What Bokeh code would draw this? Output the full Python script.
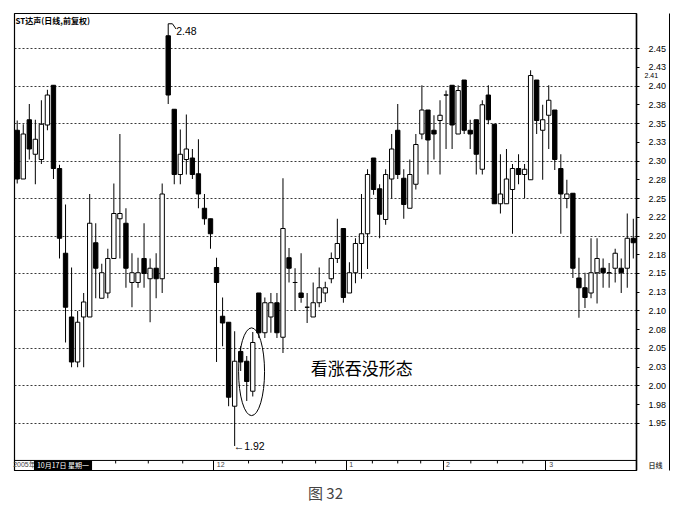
import numpy as np
from bokeh.plotting import figure
from bokeh.models import ColumnDataSource, FixedTicker, LinearAxis, Range1d, Label, Title, Span
from bokeh.embed import file_html
from bokeh.resources import INLINE

# ---------------- data ----------------
opens = [2.341, 2.276, 2.355, 2.309, 2.302, 2.348, 2.401, 2.290, 2.177, 2.092,
         2.032, 2.092, 2.092, 2.191, 2.117, 2.124, 2.170, 2.223, 2.217, 2.138,
         2.138, 2.170, 2.143, 2.157, 2.143, 2.467, 2.369, 2.282, 2.302, 2.304,
         2.283, 2.237, 2.223, 2.158, 2.093, 2.085, 1.973, 2.046, 2.033, 1.993,
         2.124, 2.071, 2.092, 2.111, 2.065, 2.171, 2.138, 2.124, 2.105, 2.092,
         2.111, 2.124, 2.143, 2.170, 2.210, 2.124, 2.151, 2.190, 2.203, 2.304,
         2.263, 2.222, 2.276, 2.341, 2.277, 2.237, 2.269, 2.336, 2.368, 2.341,
         2.354, 2.388, 2.401, 2.336, 2.408, 2.341, 2.355, 2.289, 2.388, 2.349,
         2.243, 2.243, 2.262, 2.290, 2.282, 2.275, 2.408, 2.341, 2.361, 2.368,
         2.290, 2.250, 2.257, 2.144, 2.131, 2.124, 2.151, 2.157, 2.151, 2.157,
         2.157, 2.157, 2.197]
highs = [2.354, 2.349, 2.376, 2.355, 2.381, 2.395, 2.401, 2.295, 2.242, 2.158,
         2.100, 2.124, 2.256, 2.217, 2.163, 2.183, 2.270, 2.336, 2.237, 2.177,
         2.171, 2.217, 2.170, 2.177, 2.270, 2.480, 2.369, 2.342, 2.362, 2.316,
         2.329, 2.256, 2.223, 2.171, 2.118, 2.085, 2.073, 2.053, 2.040, 2.072,
         2.124, 2.118, 2.124, 2.124, 2.277, 2.184, 2.157, 2.177, 2.124, 2.138,
         2.158, 2.139, 2.178, 2.223, 2.210, 2.165, 2.197, 2.256, 2.289, 2.304,
         2.269, 2.289, 2.336, 2.376, 2.289, 2.302, 2.336, 2.401, 2.368, 2.361,
         2.381, 2.394, 2.401, 2.401, 2.408, 2.355, 2.355, 2.381, 2.401, 2.349,
         2.309, 2.316, 2.296, 2.309, 2.296, 2.421, 2.408, 2.375, 2.401, 2.368,
         2.309, 2.275, 2.257, 2.171, 2.151, 2.197, 2.197, 2.170, 2.164, 2.183,
         2.170, 2.230, 2.223]
lows = [2.270, 2.276, 2.302, 2.269, 2.296, 2.341, 2.276, 2.170, 2.058, 2.025,
        2.025, 2.025, 2.092, 2.117, 2.117, 2.117, 2.170, 2.170, 2.131, 2.105,
        2.131, 2.131, 2.085, 2.117, 2.124, 2.376, 2.269, 2.269, 2.282, 2.276,
        2.237, 2.215, 2.183, 2.032, 2.053, 1.973, 1.920, 2.020, 1.980, 1.986,
        2.064, 2.064, 2.071, 2.064, 2.044, 2.138, 2.100, 2.111, 2.084, 2.092,
        2.105, 2.112, 2.137, 2.164, 2.111, 2.124, 2.137, 2.143, 2.156, 2.255,
        2.197, 2.215, 2.250, 2.276, 2.223, 2.237, 2.262, 2.329, 2.282, 2.302,
        2.282, 2.316, 2.316, 2.336, 2.336, 2.316, 2.282, 2.282, 2.349, 2.243,
        2.230, 2.243, 2.203, 2.269, 2.250, 2.275, 2.336, 2.275, 2.316, 2.288,
        2.203, 2.237, 2.144, 2.091, 2.104, 2.117, 2.110, 2.131, 2.131, 2.138,
        2.124, 2.131, 2.170]
closes = [2.276, 2.336, 2.316, 2.329, 2.349, 2.388, 2.290, 2.197, 2.105, 2.032,
          2.085, 2.112, 2.217, 2.157, 2.151, 2.170, 2.230, 2.230, 2.157, 2.151,
          2.151, 2.150, 2.157, 2.143, 2.256, 2.388, 2.282, 2.309, 2.316, 2.282,
          2.256, 2.223, 2.203, 2.138, 2.084, 1.985, 2.033, 2.032, 2.006, 2.058,
          2.071, 2.111, 2.111, 2.071, 2.210, 2.157, 2.138, 2.118, 2.105, 2.111,
          2.131, 2.131, 2.170, 2.190, 2.118, 2.151, 2.190, 2.203, 2.282, 2.262,
          2.229, 2.282, 2.316, 2.282, 2.242, 2.282, 2.322, 2.368, 2.328, 2.336,
          2.361, 2.388, 2.348, 2.394, 2.341, 2.336, 2.309, 2.375, 2.355, 2.243,
          2.256, 2.276, 2.290, 2.282, 2.289, 2.414, 2.354, 2.355, 2.381, 2.302,
          2.256, 2.256, 2.157, 2.131, 2.118, 2.151, 2.170, 2.151, 2.151, 2.177,
          2.151, 2.197, 2.191]

# price axis ticks and their printed labels
y_ticks = [1.95, 1.975, 2.0, 2.025, 2.05, 2.075, 2.1, 2.125, 2.15, 2.175, 2.2,
           2.225, 2.25, 2.275, 2.3, 2.325, 2.35, 2.375, 2.4, 2.425, 2.45]
y_tick_labels = ["1.95", "1.98", "2.00", "2.03", "2.05", "2.08", "2.10", "2.13",
                 "2.15", "2.18", "2.20", "2.22", "2.25", "2.28", "2.30", "2.33",
                 "2.35", "2.38", "2.40", "2.43", "2.45"]
grid_levels = [1.95, 2.0, 2.05, 2.1, 2.15, 2.2, 2.25, 2.3, 2.35, 2.4, 2.45]
marker_price = 2.414
marker_label = "2.41"

# time strip: month separators, small tick marks, labels
month_starts = [32.5, 54.5, 70.5, 87.5]
small_ticks = [16.3, 21.7, 27.4, 38.3, 43.9, 49.4, 58.8, 63.0, 66.8, 75.1, 79.5, 83.7]
x_label_pos = [1.2, 33.7, 55.3, 71.3, 88.4]
x_labels = ["2005年", "12", "1", "2", "3"]
period_label = "日线"
date_box_text = "10月17日 星期一"

title_text = "ST达声(日线,前复权)"
pattern_text = "看涨吞没形态"
caption_text = "图 32"

# ---------------- geometry of the window ----------------
Y_TOP, Y_BOTTOM = 1.8873, 2.4967          # price at bottom / top of the frame
STRIP_TOP = 1.9007                         # price level of the time-strip top line
STRIP_MID = 1.894


def try_set(obj, **kw):
    ok = True
    for k, v in kw.items():
        try:
            setattr(obj, k, v)
        except Exception:
            ok = False
    return ok


n = len(opens)
idx = list(range(n))
src = ColumnDataSource(dict(
    x=idx, open=opens, high=highs, low=lows, close=closes,
    top=[max(o, c) for o, c in zip(opens, closes)],
    bottom=[min(o, c) for o, c in zip(opens, closes)],
    fill=["white" if c >= o else "black" for o, c in zip(opens, closes)],
))

p = figure(width=678, height=514,
           x_range=Range1d(-0.45, 102.53), y_range=Range1d(Y_TOP, Y_BOTTOM),
           output_backend="svg", toolbar_location=None,
           y_axis_location="right",
           min_border_left=14, min_border_right=42, min_border_top=13, min_border_bottom=44)
p.background_fill_color = "white"
p.border_fill_color = "white"
p.outline_line_color = "black"
p.outline_line_width = 1.2

# grid
p.xgrid.visible = False
p.ygrid.ticker = FixedTicker(ticks=grid_levels)
p.ygrid.grid_line_color = "#3a3a3a"
p.ygrid.grid_line_dash = "2 2"
p.ygrid.grid_line_width = 1

# y axis (right)
ya = p.yaxis[0]
ya.ticker = FixedTicker(ticks=y_ticks)
ya.major_label_overrides = {t: s for t, s in zip(y_ticks, y_tick_labels)}
ya.major_label_text_font = "Liberation Sans Narrow, Liberation Sans"
ya.major_label_text_font_size = "9px"
ya.major_label_text_color = "black"
ya.major_tick_out = 3
ya.major_tick_in = 0
ya.minor_tick_line_color = None
ya.axis_line_width = 1.5
ya.major_label_standoff = 9

# outer border line, carrying the period label of the bottom-right box
ya2 = LinearAxis(ticker=FixedTicker(ticks=[STRIP_MID]),
                 major_label_overrides={STRIP_MID: period_label},
                 major_label_text_font="Noto Sans CJK SC", major_label_text_font_size="7px",
                 major_label_text_font_style="bold",
                 major_tick_out=0, major_tick_in=0, major_label_standoff=-21,
                 axis_line_color="black", minor_tick_line_color=None)
p.add_layout(ya2, "right")

# price marker box on the axis
ya3 = LinearAxis(ticker=FixedTicker(ticks=[marker_price]),
                 major_label_overrides={marker_price: marker_label},
                 major_label_text_font="Liberation Sans Narrow, Liberation Sans",
                 major_label_text_font_size="7px",
                 major_tick_out=0, major_tick_in=0, major_label_standoff=-25,
                 axis_line_color=None, minor_tick_line_color=None)
has_bg = try_set(ya3, major_label_background_fill_color="black")
ya3.major_label_text_color = "white" if has_bg else "black"
p.add_layout(ya3, "right")

# x axis: labels drawn inside the time strip
xa = p.xaxis[0]
xa.ticker = FixedTicker(ticks=x_label_pos, minor_ticks=month_starts)
xa.major_label_overrides = {t: s for t, s in zip(x_label_pos, x_labels)}
xa.major_label_text_font = "Liberation Sans, Noto Sans CJK SC"
xa.major_label_text_font_size = "7px"
xa.major_label_standoff = -10
xa.major_tick_out = 0
xa.major_tick_in = 0
xa.major_tick_line_color = None
xa.minor_tick_out = 0
xa.minor_tick_in = 10
xa.minor_tick_line_color = "black"
xa.axis_line_color = "black"

# strip top line and small tick marks
p.add_layout(Span(location=STRIP_TOP, dimension="width", line_color="black", line_width=1))
p.segment(x0=small_ticks, y0=[STRIP_TOP] * len(small_ticks),
          x1=small_ticks, y1=[STRIP_TOP - 0.004] * len(small_ticks),
          line_color="black", line_width=1)

# candles
p.segment(x0="x", y0="low", x1="x", y1="high", source=src, line_color="black", line_width=1)
p.vbar(x="x", width=0.72, top="top", bottom="bottom", source=src,
       fill_color="fill", line_color="black", line_width=1)

# high / low annotations
hi_i = int(np.argmax(highs))
lo_i = int(np.argmin(lows))
p.line([hi_i, hi_i, hi_i + 0.7, hi_i + 1.3],
       [highs[hi_i], highs[hi_i] + 0.003, highs[hi_i] + 0.003, highs[hi_i] - 0.004],
       line_color="black", line_width=1)
p.add_layout(Label(x=hi_i, y=highs[hi_i], x_offset=8, y_offset=-5, text=f"{highs[hi_i]:.2f}",
                   text_font="Liberation Sans", text_font_size="10.5px",
                   text_baseline="middle", text_align="left", text_color="black"))
p.add_layout(Label(x=lo_i, y=lows[lo_i], x_offset=-1, y_offset=0, text=f"\u2190{lows[lo_i]:.2f}",
                   text_font="Liberation Sans, DejaVu Sans", text_font_size="10.5px",
                   text_baseline="middle", text_align="left", text_color="black"))

# highlight ellipse around the engulfing pattern
p.ellipse(x=[38.8], y=[2.019], width=[4.3], height=[0.117],
          fill_color=None, line_color="black", line_width=1)

p.add_layout(Label(x=48.6, y=2.0247, text=pattern_text, text_font="Noto Sans CJK SC",
                   text_font_size="17px", text_baseline="middle", text_align="left",
                   text_color="black"))

# title inside the frame
p.add_layout(Label(x=-0.45, y=Y_BOTTOM, x_offset=1, y_offset=-1, text=title_text,
                   text_font="Noto Sans CJK SC", text_font_size="8px", text_font_style="bold",
                   text_baseline="top", text_align="left", text_color="black"))

# dark date box in the time strip
p.add_layout(Label(x=7.58, y=STRIP_MID, text=date_box_text, text_font="Noto Sans CJK SC",
                   text_font_size="7px", text_color="white", background_fill_color="black",
                   text_baseline="middle", text_align="center", padding=(3, 0)))

p.add_layout(Title(text=caption_text, align="center", standoff=18, text_font="Noto Sans CJK SC",
                   text_font_size="15px", text_font_style="normal"), "below")

open("out.html", "w").write(file_html(p, INLINE))
